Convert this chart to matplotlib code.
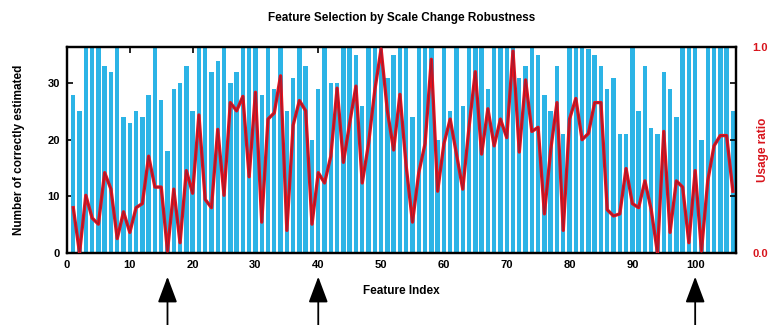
import matplotlib
matplotlib.use("Agg")
from matplotlib import pyplot as plt
import numpy as np

plt.rcParams['font.family'] = ['Liberation Sans', 'DejaVu Sans']
plt.rcParams['font.weight'] = 'bold'

# number of correctly estimated (left axis), features 1..106
counts = [28, 25, 37, 37, 37, 33, 32, 37, 24, 23,
          25, 24, 28, 37, 27, 18, 29, 30, 33, 25,
          37, 37, 32, 34, 37, 30, 32, 37, 37, 37,
          28, 37, 29, 37, 25, 31, 37, 33, 20, 29,
          37, 30, 30, 37, 37, 35, 26, 37, 37, 37,
          31, 35, 37, 37, 24, 37, 37, 37, 20, 37,
          25, 37, 26, 37, 37, 37, 29, 37, 37, 37,
          37, 31, 33, 37, 35, 28, 25, 33, 21, 37,
          37, 37, 36, 35, 33, 29, 31, 21, 21, 37,
          25, 33, 22, 21, 32, 29, 24, 37, 37, 37,
          20, 37, 37, 37, 37, 25]

# usage ratio (right axis)
usage = [0.22, 0.00, 0.28, 0.17, 0.14, 0.39, 0.31, 0.07, 0.20, 0.10,
         0.22, 0.24, 0.47, 0.32, 0.32, 0.01, 0.31, 0.05, 0.40, 0.29,
         0.67, 0.26, 0.22, 0.60, 0.28, 0.73, 0.69, 0.76, 0.37, 0.78,
         0.15, 0.65, 0.68, 0.86, 0.11, 0.62, 0.74, 0.69, 0.14, 0.39,
         0.34, 0.47, 0.80, 0.44, 0.63, 0.81, 0.34, 0.53, 0.79, 0.99,
         0.69, 0.50, 0.77, 0.42, 0.15, 0.39, 0.53, 0.94, 0.30, 0.53,
         0.65, 0.48, 0.31, 0.61, 0.88, 0.48, 0.70, 0.52, 0.65, 0.56,
         0.98, 0.49, 0.84, 0.59, 0.61, 0.19, 0.50, 0.73, 0.11, 0.65,
         0.75, 0.55, 0.58, 0.73, 0.73, 0.21, 0.18, 0.19, 0.41, 0.24,
         0.22, 0.35, 0.21, 0.00, 0.59, 0.10, 0.35, 0.32, 0.05, 0.40,
         0.01, 0.35, 0.52, 0.57, 0.57, 0.30]

features = np.arange(1, len(counts) + 1)
marked = [16, 40, 100]   # arrows under the axis
ymax = 36.4

fig = plt.figure(figsize=(7.69, 3.25), dpi=100)
ax = fig.add_axes([0.0871, 0.2215, 0.870, 0.634])

ax.bar(features, counts, width=0.7, color='#2cb4e6', zorder=2)
ax.set_xlim(0, 106.5)
ax.set_ylim(0, ymax)
ax.set_xticks(np.arange(0, 101, 10))
ax.set_yticks([0, 10, 20, 30])
ax.tick_params(direction='in', length=4, width=1.2, labelsize=8, top=True, pad=5)
for s in ax.spines.values():
    s.set_linewidth(1.6)
ax.set_xlabel('Feature Index', fontsize=8.5, fontweight='bold', labelpad=11)
ax.set_ylabel('Number of correctly estimated', fontsize=8.5, fontweight='bold', labelpad=16)
ax.set_title('Feature Selection by Scale Change Robustness', fontsize=8.5,
             fontweight='bold', pad=19)

ax2 = ax.twinx()
ax2.plot(features, usage, color='#e8121c', lw=2.4, zorder=3)
ax2.plot(features, usage, color='#a01a30', lw=0.8, zorder=4)
ax2.set_ylim(0, 1)
rt = [t / ymax for t in [0, 10, 20, 30]] + [1.0]
ax2.set_yticks(rt)
ax2.set_yticklabels(['0.0', '', '', '', '1.0'])
ax2.tick_params(direction='in', length=4, width=1.2, labelsize=8,
                labelcolor='#d8141c', pad=12)
ax2.set_ylabel('Usage ratio', fontsize=8.5, fontweight='bold', color='#d8141c')
ax2.yaxis.set_label_coords(1.031, 0.5)
for s in ax2.spines.values():
    s.set_linewidth(1.6)

for m in marked:
    ax.annotate('', xy=(m, -0.115), xycoords=('data', 'axes fraction'),
                xytext=(m, -0.36), textcoords=('data', 'axes fraction'),
                arrowprops=dict(arrowstyle='-|>,head_length=1.6,head_width=0.6',
                                color='black', lw=1.3, shrinkA=0, shrinkB=0))

fig.savefig('out.png', dpi=100)
